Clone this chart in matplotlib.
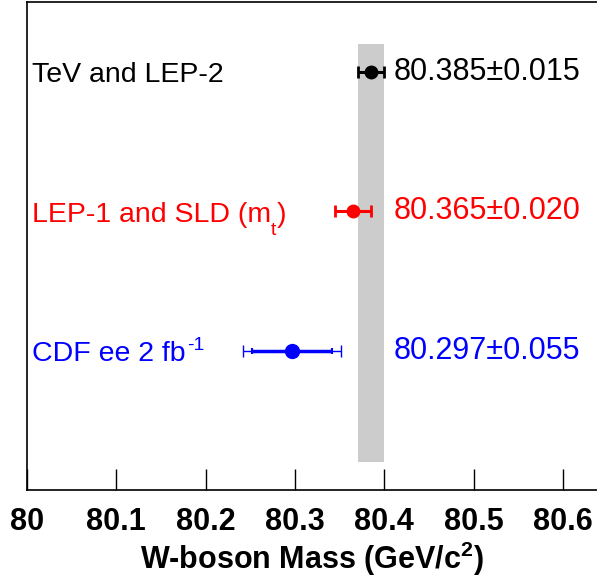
import numpy as np
import matplotlib.pyplot as plt

plt.rcParams['font.family'] = ['Liberation Sans', 'DejaVu Sans']
plt.rcParams['mathtext.fontset'] = 'custom'
plt.rcParams['mathtext.rm'] = 'Liberation Sans'
plt.rcParams['mathtext.it'] = 'Liberation Sans'
plt.rcParams['mathtext.bf'] = 'Liberation Sans:bold'

# measurements, top to bottom (label split into main / subscript / superscript / tail)
label_main = ['TeV and LEP-2', 'LEP-1 and SLD (m', 'CDF ee 2 fb']
label_sub = ['', 't', '']
label_sup = ['', '', '-1']
label_tail = ['', ')', '']
values = [80.385, 80.365, 80.297]
errors = [0.015, 0.020, 0.055]
inner_errors = [None, None, 0.045]
colors = ['black', 'red', 'blue']
marker_sizes = [9, 9, 10]
rows = [3, 2, 1]

band_center = 80.385
band_half = 0.015

xticks = [80, 80.1, 80.2, 80.3, 80.4, 80.5, 80.6]
xticklabels = ['80', '80.1', '80.2', '80.3', '80.4', '80.5', '80.6']

fig = plt.figure(figsize=(5.97, 5.85), dpi=100)
ax = fig.add_axes([0.045, 0.162, 0.955, 0.835])

ax.fill_between([band_center - band_half, band_center + band_half], 0.2, 3.2,
                color='#cccccc', linewidth=0, zorder=0)

fs = 20.5
for (i, y) in enumerate(rows):
    c = colors[i]
    ax.errorbar(values[i], y, xerr=errors[i], fmt='none', ecolor=c,
                elinewidth=2.2 if inner_errors[i] is None else 1.0,
                capsize=4, capthick=2 if inner_errors[i] is None else 1.0, zorder=3)
    if inner_errors[i] is not None:
        ax.errorbar(values[i], y, xerr=inner_errors[i], fmt='none', ecolor=c,
                    elinewidth=2.5, capsize=2.5, capthick=1.5, zorder=3)
    ax.plot(values[i], y, 'o', color=c, markersize=marker_sizes[i], zorder=4)

    # label, built piece by piece so sub/superscripts sit like the original
    t = ax.annotate(label_main[i], xy=(80.0056, y), xytext=(0, -7.5),
                    textcoords='offset points', color=c, fontsize=fs,
                    va='baseline', ha='left')
    if label_sub[i]:
        t = ax.annotate(label_sub[i], xy=(1, y), xycoords=(t, 'data'), xytext=(0, -17.5),
                        textcoords='offset points', color=c, fontsize=14,
                        va='baseline', ha='left')
    if label_sup[i]:
        t = ax.annotate(label_sup[i], xy=(1, y), xycoords=(t, 'data'), xytext=(1, 0.5),
                        textcoords='offset points', color=c, fontsize=14,
                        va='baseline', ha='left')
    if label_tail[i]:
        ax.annotate(label_tail[i], xy=(1, y), xycoords=(t, 'data'), xytext=(0, -7.5),
                    textcoords='offset points', color=c, fontsize=fs,
                    va='baseline', ha='left')

    ax.text(80.41, y, '%.3f\u00b1%.3f' % (values[i], errors[i]), color=c,
            fontsize=22, va='center', ha='left')

ax.set_xlim(80, 80.638)
ax.set_ylim(0, 3.5)
ax.set_yticks([])
ax.set_xticks(xticks)
ax.set_xticklabels(xticklabels, fontsize=22, fontweight='bold')
ax.tick_params(axis='x', direction='in', length=15, width=1, pad=12)
ax.spines['right'].set_visible(False)
for s in ['left', 'top', 'bottom']:
    ax.spines[s].set_linewidth(1.2)
ax.set_xlabel(r'W-boson Mass (GeV/c$^{\mathbf{2}}$)', fontsize=22, fontweight='bold', labelpad=2)

fig.savefig('out.png', dpi=100)
